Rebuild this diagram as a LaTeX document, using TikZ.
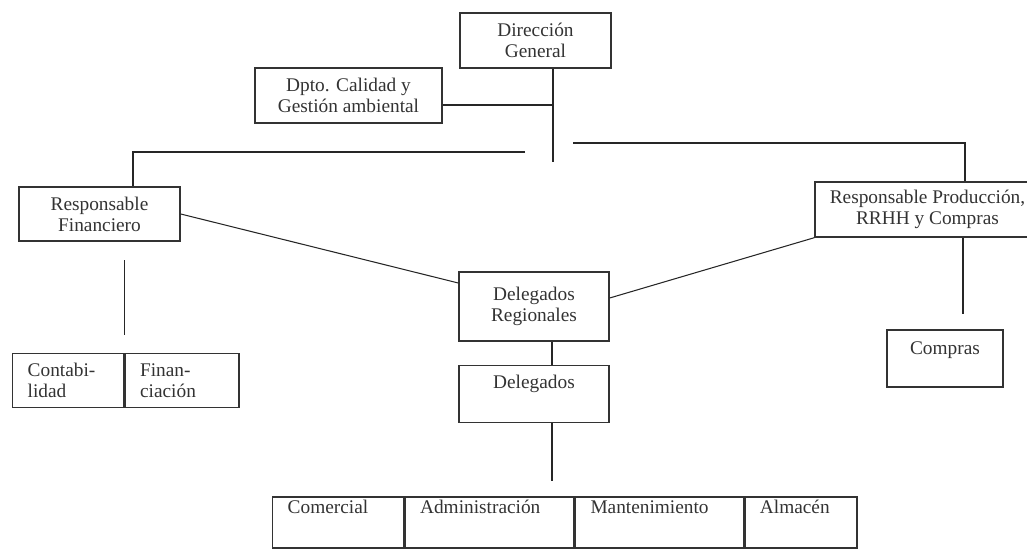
\documentclass[tikz,border=0pt]{standalone}
\usepackage{fontspec}
\setmainfont{Liberation Serif}
\usetikzlibrary{positioning}

\tikzset{
  caja/.style={draw=black!80, line width=0.8pt, align=center, inner sep=2pt,
    font=\fontsize{11}{12}\selectfont, text=black!80},
  linea/.style={draw=black!85, line width=0.6pt},
  celda/.style={caja, align=left, inner xsep=0.3cm, inner ysep=1pt,
    text height=8.1pt, text depth=18.9pt}
}

\begin{document}
\begin{tikzpicture}
  \useasboundingbox (0,0) rectangle (20.54,-10.98);
  \clip (0,0) rectangle (20.54,-10.98);

  % direccion y calidad
  \node [caja, minimum width=3.02cm, minimum height=1.1cm] (dg) at (10.71,-0.81) {Dirección\\General};
  \node [caja, minimum width=3.74cm, minimum height=1.1cm] (dpto) at (6.97,-1.91) {Dpto. Calidad y\\Gestión ambiental};

  % responsables
  \node [caja, minimum width=3.22cm, minimum height=1.08cm] (rf) at (1.99,-4.28) {Responsable\\Financiero};
  \node [caja, minimum width=4.5cm, minimum height=1.1cm] (rp) at (18.55,-4.19) {Responsable Producción,\\RRHH y Compras};

  % delegados
  \node [caja, minimum width=3cm, minimum height=1.38cm] (dr) at (10.68,-6.13) {Delegados\\Regionales};
  \node [caja, minimum width=3cm, inner ysep=3pt, text height=10.1pt, text depth=16.3pt, anchor=north] (del) at (10.68,-7.3) {Delegados};
  \node [caja, minimum width=2.32cm, inner ysep=3pt, text height=11.2pt, text depth=15.2pt] (compras) at (18.9,-7.17) {Compras};

  % contabilidad / financiacion
  \node [caja, align=left, inner xsep=0.3cm, text width=1.62cm, minimum height=1.08cm, anchor=north west] (conta) at (0.24,-7.06) {Contabi-\\lidad};
  \node [caja, align=left, inner xsep=0.3cm, text width=1.68cm, minimum height=1.08cm, right=0cm of conta] (fina) {Finan-\\ciación};

  % departamentos
  \node [celda, text width=2.02cm, anchor=north west] (com) at (5.44,-9.93) {Comercial};
  \node [celda, text width=2.78cm, right=0cm of com] (adm) {Administración};
  \node [celda, text width=2.76cm, right=0cm of adm] (man) {Mantenimiento};
  \node [celda, text width=1.64cm, right=0cm of man] (alm) {Almacén};

  \coordinate (tronco) at (11.06,-3.24);
  \coordinate (izq) at (10.5,-3.04);
  \coordinate (der) at (11.46,-2.86);

  \draw [linea] (dg.south -| tronco) -- (tronco);
  \draw [linea] ([yshift=-0.19cm]dpto.east) -- ([yshift=-0.19cm]dpto.east -| tronco);
  \draw [linea] (izq) -| ([xshift=0.67cm]rf.north);
  \draw [linea] (der) -| ([xshift=0.75cm]rp.north);

  \draw [linea] (rf.east) -- ([yshift=0.47cm]dr.west);
  \draw [linea] (rp.south west) -- ([yshift=0.17cm]dr.east);

  \draw [linea] ([yshift=0.36cm]conta.north east) -- ++(0,1.5);
  \draw [linea] ([xshift=0.71cm]rp.south) -- ++(0,-1.52);
  \draw [linea] ([xshift=0.36cm]dr.south) -- ([xshift=0.36cm]del.north);
  \draw [linea] ([xshift=0.36cm]del.south) -- ++(0,-1.16);

\end{tikzpicture}
\end{document}
